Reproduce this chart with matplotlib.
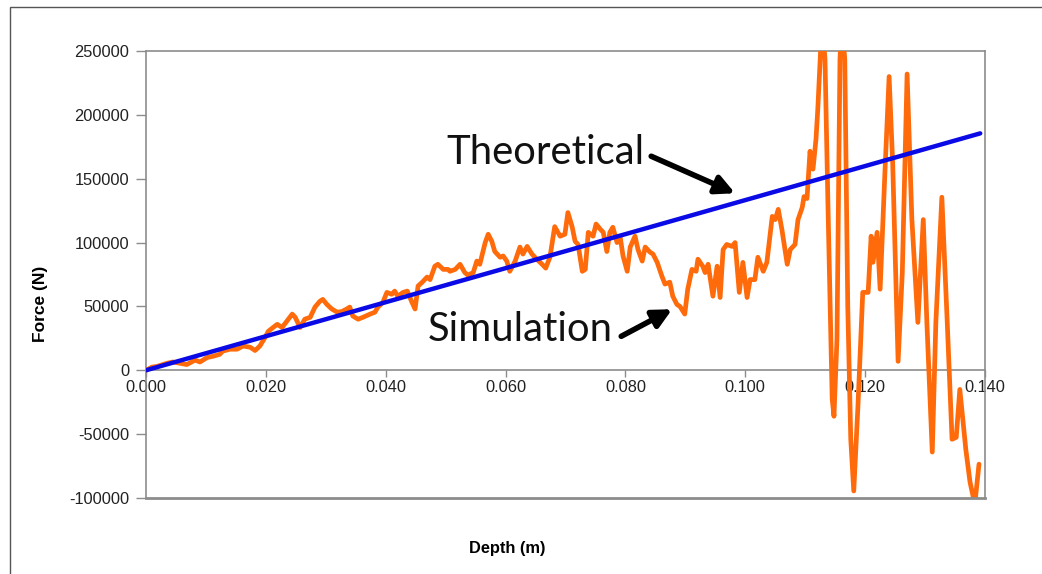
import matplotlib
matplotlib.use("Agg")
import matplotlib.pyplot as plt
from matplotlib.patches import Rectangle

# ---- data ----
theory_depth = [0.0, 0.1392]
theory_force = [0, 185500]

sim_depth = [
    0.0000, 0.0010, 0.0018, 0.0028, 0.0035, 0.0045, 0.0057, 0.0068, 0.0082, 0.0090,
    0.0102, 0.0112, 0.0123, 0.0128, 0.0140, 0.0152, 0.0162, 0.0174, 0.0182, 0.0190,
    0.0199, 0.0204, 0.0212, 0.0219, 0.0227, 0.0235, 0.0244, 0.0249, 0.0257, 0.0265,
    0.0274, 0.0282, 0.0290, 0.0295, 0.0302, 0.0310, 0.0319, 0.0327, 0.0335, 0.0340,
    0.0345, 0.0354, 0.0362, 0.0374, 0.0382, 0.0387, 0.0395, 0.0402, 0.0410, 0.0415,
    0.0420, 0.0429, 0.0436, 0.0444, 0.0449, 0.0454, 0.0461, 0.0469, 0.0474, 0.0482,
    0.0487, 0.0496, 0.0504, 0.0507, 0.0516, 0.0524, 0.0532, 0.0537, 0.0546, 0.0552,
    0.0557, 0.0566, 0.0571, 0.0577, 0.0582, 0.0591, 0.0596, 0.0602, 0.0607, 0.0616,
    0.0624, 0.0629, 0.0636, 0.0644, 0.0652, 0.0661, 0.0667, 0.0674, 0.0682, 0.0691,
    0.0699, 0.0704, 0.0711, 0.0716, 0.0721, 0.0728, 0.0733, 0.0738, 0.0746, 0.0751,
    0.0758, 0.0763, 0.0769, 0.0774, 0.0779, 0.0786, 0.0791, 0.0796, 0.0803, 0.0808,
    0.0816, 0.0821, 0.0828, 0.0833, 0.0841, 0.0846, 0.0853, 0.0861, 0.0866, 0.0874,
    0.0879, 0.0886, 0.0891, 0.0899, 0.0904, 0.0911, 0.0918, 0.0921, 0.0929, 0.0933,
    0.0938, 0.0946, 0.0953, 0.0958, 0.0963, 0.0969, 0.0978, 0.0983, 0.0990, 0.0996,
    0.1003, 0.1008, 0.1016, 0.1021, 0.1030, 0.1036, 0.1045, 0.1050, 0.1055, 0.1061,
    0.1070, 0.1075, 0.1083, 0.1088, 0.1095, 0.1098, 0.1103, 0.1108, 0.1113, 0.1118,
    0.1121, 0.1125, 0.1128, 0.1133, 0.1138, 0.1145, 0.1148, 0.1153, 0.1158, 0.1161,
    0.1166, 0.1171, 0.1176, 0.1181, 0.1188, 0.1196, 0.1205, 0.1210, 0.1213, 0.1220,
    0.1225, 0.1233, 0.1240, 0.1246, 0.1255, 0.1262, 0.1270, 0.1278, 0.1288, 0.1297,
    0.1303, 0.1312, 0.1318, 0.1328, 0.1337, 0.1345, 0.1352, 0.1358, 0.1368, 0.1375,
    0.1383, 0.1390,
]
sim_force = [
    0, 2500, 3000, 4500, 5500, 6500, 5500, 4500, 8000, 6500,
    10000, 11000, 12500, 15000, 16500, 16500, 19000, 18000, 15500, 19000,
    26000, 30500, 33500, 36000, 33500, 38500, 44000, 41500, 33500, 40000,
    41500, 49500, 54000, 55500, 51500, 48000, 45500, 46000, 48000, 49500,
    42500, 40000, 41500, 44000, 45500, 49500, 53000, 61000, 59500, 62000,
    58000, 61000, 62000, 53000, 48000, 66000, 69000, 73000, 71000, 81500,
    83000, 79000, 79000, 77500, 79000, 83000, 76500, 74500, 76500, 85500,
    83000, 100000, 106500, 101000, 93000, 88500, 89500, 85500, 77500, 85500,
    96500, 91000, 97000, 91000, 87000, 83000, 80000, 88500, 112500, 105000,
    106500, 123500, 112500, 101000, 98500, 77500, 79000, 108000, 105000, 114500,
    110500, 108000, 93000, 108000, 112000, 100000, 105000, 89500, 77500, 96500,
    105000, 94500, 85500, 96500, 92500, 91000, 84500, 73500, 67500, 69000,
    58000, 51500, 50000, 44000, 63500, 79000, 77500, 87000, 81500, 76500,
    83000, 58000, 81500, 57000, 94500, 98500, 97000, 100000, 61000, 84500,
    57000, 71000, 71000, 88500, 77500, 84500, 120500, 118000, 126000, 110500,
    83000, 94500, 98500, 118000, 127500, 136000, 134500, 171500, 157500, 181000,
    204500, 243500, 275000, 243500, 128500, -22500, -36000, 24500, 243500, 275000,
    243500, 50000, -54000, -94500, -28000, 61000, 61000, 105000, 84500, 108000,
    63500, 155000, 230000, 161500, 7000, 76500, 232000, 118000, 37500, 118000,
    37500, -64000, 37500, 135500, 37500, -54000, -52500, -15000, -62000, -87500,
    -105000, -73500,
]

x_ticks = [0.000, 0.020, 0.040, 0.060, 0.080, 0.100, 0.120, 0.140]
y_ticks = [-100000, -50000, 0, 50000, 100000, 150000, 200000, 250000]

# ---- figure ----
W, H, DPI = 1042, 574, 100
fig = plt.figure(figsize=(W / DPI, H / DPI), dpi=DPI)
fig.patch.set_facecolor("white")

# outer frame of the picture
fig.add_artist(Rectangle((10 / W, -0.02), 1.05, 1 - 6.5 / H + 0.02,
                         transform=fig.transFigure, fill=False,
                         edgecolor="#555555", linewidth=1.0))

ax = fig.add_axes([146 / W, 1 - 498 / H, (985 - 146) / W, (498 - 51) / H])

grey = "#8c8c8c"
ax.plot(sim_depth, sim_force, color="#ff6a0a", linewidth=3.4,
        solid_joinstyle="round", solid_capstyle="round", zorder=3)
ax.plot(theory_depth, theory_force, color="#0a0ae6", linewidth=3.2,
        solid_capstyle="round", zorder=4)

ax.set_xlim(0, 0.140)
ax.set_ylim(-100000, 250000)

ax.spines["bottom"].set_position(("data", 0))
for s in ["left", "top", "right", "bottom"]:
    ax.spines[s].set_color(grey)
    ax.spines[s].set_linewidth(1.2)
ax.axhline(-100000, color=grey, linewidth=2.0, clip_on=False, zorder=5)

ax.set_xticks(x_ticks)
ax.set_xticklabels([f"{v:.3f}" for v in x_ticks])
ax.set_yticks(y_ticks)
ax.set_yticklabels([f"{v:d}" for v in y_ticks])
ax.tick_params(axis="x", direction="out", length=5, width=1.0, color=grey,
               labelsize=11.8, labelcolor="#222222", pad=2)
ax.tick_params(axis="y", direction="out", length=7, width=1.0, color=grey,
               labelsize=11.8, labelcolor="#222222", pad=5)
for lab in ax.get_xticklabels() + ax.get_yticklabels():
    lab.set_family(["Liberation Sans", "DejaVu Sans"])

fig.text(507 / W, 1 - 548 / H, "Depth (m)", ha="center", va="center",
         fontsize=11.8, fontweight="bold", family=["Liberation Sans", "DejaVu Sans"])
fig.text(40 / W, 1 - 304 / H, "Force (N)", ha="center", va="center", rotation=90,
         fontsize=12.5, fontweight="bold", family=["Liberation Sans", "DejaVu Sans"])

# annotations
arrow = dict(arrowstyle="-|>", color="black", lw=4, mutation_scale=28,
             shrinkA=0, shrinkB=0)
ax.text(0.0666, 170700, "Theoretical", fontsize=28.8, ha="center", va="center",
        family=["Lato", "DejaVu Sans"], color="#111111", zorder=6)
ax.annotate("", xy=(0.0983, 138600), xytext=(0.0843, 167600),
            arrowprops=arrow, zorder=6)
ax.text(0.0624, 32100, "Simulation", fontsize=28.8, ha="center", va="center",
        family=["Lato", "DejaVu Sans"], color="#111111", zorder=6)
ax.annotate("", xy=(0.0878, 47800), xytext=(0.0793, 26600),
            arrowprops=arrow, zorder=6)

fig.savefig("out.png", dpi=DPI, facecolor="white")
